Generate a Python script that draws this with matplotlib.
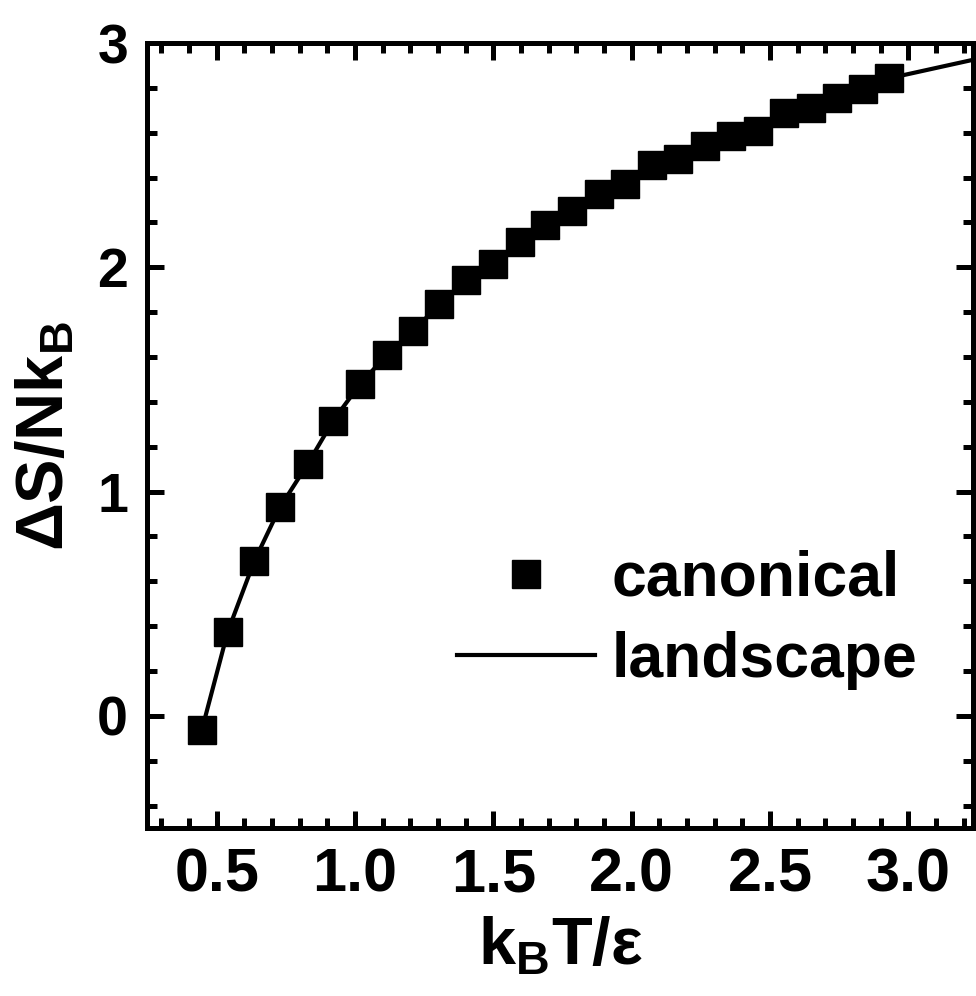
import numpy as np
import matplotlib
matplotlib.use("Agg")
import matplotlib.pyplot as plt
from matplotlib.ticker import MultipleLocator

plt.rcParams["font.family"] = ["Liberation Sans", "DejaVu Sans"]
plt.rcParams["font.weight"] = "bold"
plt.rcParams["mathtext.default"] = "regular"

# canonical simulation points
canon_T = [0.446, 0.540, 0.636, 0.729, 0.829, 0.921, 1.018, 1.114, 1.211, 1.305,
           1.401, 1.500, 1.596, 1.687, 1.785, 1.882, 1.976, 2.072, 2.168, 2.265,
           2.359, 2.455, 2.551, 2.648, 2.741, 2.837, 2.931]
canon_S = [-0.065, 0.375, 0.690, 0.930, 1.123, 1.316, 1.479, 1.608, 1.716, 1.836,
           1.942, 2.013, 2.112, 2.187, 2.253, 2.327, 2.372, 2.456, 2.483, 2.539,
           2.587, 2.606, 2.686, 2.710, 2.754, 2.794, 2.843]

# landscape curve
land_T = canon_T + [3.24]
land_S = canon_S + [2.927]

fig = plt.figure(figsize=(9.76, 9.96), dpi=100)
ax = fig.add_axes([0.1511, 0.1687, 0.8463, 0.7881])

ax.plot(land_T, land_S, color="black", linewidth=3.0, label="landscape", zorder=2)
ax.plot(canon_T, canon_S, linestyle="none", marker="s", markersize=19.5,
        color="black", label="canonical", zorder=3)

ax.set_xlim(0.25, 3.235)
ax.set_ylim(-0.5, 3.0)
ax.xaxis.set_major_locator(MultipleLocator(0.5))
ax.xaxis.set_minor_locator(MultipleLocator(0.1))
ax.yaxis.set_major_locator(MultipleLocator(1))
ax.yaxis.set_minor_locator(MultipleLocator(0.2))
ax.set_xticks([0.5, 1.0, 1.5, 2.0, 2.5, 3.0])
ax.set_xticklabels(["0.5", "1.0", "1.5", "2.0", "2.5", "3.0"])

ax.tick_params(which="both", direction="in", top=True, right=True, width=3.6)
ax.tick_params(which="major", length=12, pad=14)
ax.tick_params(axis="x", which="major", labelsize=44)
ax.tick_params(axis="y", which="major", labelsize=40)
ax.tick_params(which="minor", length=7)
for sp in ax.spines.values():
    sp.set_linewidth(3.6)

ax.set_xlabel("k$_B$T/ε", fontsize=48, fontweight="bold", labelpad=8)
ax.set_ylabel("ΔS/Nk$_B$", fontsize=48, fontweight="bold", labelpad=14)

handles, labels = ax.get_legend_handles_labels()
ax.legend(handles[::-1], labels[::-1], loc="center left", bbox_to_anchor=(0.375, 0.265),
          frameon=False, fontsize=45, handlelength=2.2, handletextpad=0.27,
          labelspacing=0.36, borderpad=0, borderaxespad=0)

fig.savefig("out.png", dpi=100)
